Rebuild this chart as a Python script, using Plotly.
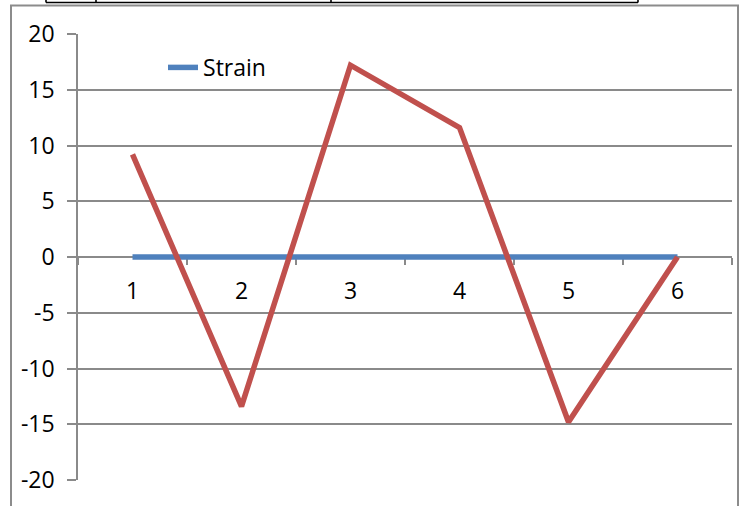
import plotly.graph_objects as go

# Sample index (category axis) and the two measured series
points = [1, 2, 3, 4, 5, 6]
tick_labels = ["1", "2", "3", "4", "5", "6"]
strain = [0, 0, 0, 0, 0, 0]
stress = [9.2, -13.4, 17.2, 11.6, -14.8, 0]
y_ticks = [-20, -15, -10, -5, 0, 5, 10, 15, 20]
y_tick_labels = ["-20", "-15", "-10", "-5", "0", "5", "10", "15", "20"]

W, H = 747, 506
L, R, T, B = 78, 15, 33.5, 26
PW, PH = W - L - R, H - T - B

def px_x(x):
    return (x - L) / PW

def px_y(y):
    return (H - B - y) / PH

GRID = "#8a8a8a"
FONT = "Open Sans"

fig = go.Figure()
fig.add_trace(go.Scatter(
    x=points, y=strain, mode="lines", name="Strain",
    line=dict(color="#4F81BD", width=5.5),
))
fig.add_trace(go.Scatter(
    x=points, y=stress, mode="lines", name="Stress", showlegend=False,
    line=dict(color="#C0504D", width=5.5),
))

shapes = [
    # chart-area frame
    dict(type="rect", xref="paper", yref="paper",
         x0=px_x(11), x1=px_x(738), y0=px_y(530), y1=px_y(5),
         line=dict(color="#8c8c8c", width=2), fillcolor="rgba(0,0,0,0)", layer="below"),
    # table rule above the chart
    dict(type="line", xref="paper", yref="paper",
         x0=px_x(46), x1=px_x(638), y0=px_y(2), y1=px_y(2),
         line=dict(color="black", width=1.6)),
]
for xv in [46, 96, 331, 638]:
    shapes.append(dict(type="line", xref="paper", yref="paper",
                       x0=px_x(xv), x1=px_x(xv), y0=px_y(-5), y1=px_y(2),
                       line=dict(color="black", width=1.6)))

fig.update_layout(
    width=W, height=H,
    margin=dict(l=L, r=R, t=T, b=B, pad=0),
    paper_bgcolor="white", plot_bgcolor="white",
    font=dict(family=FONT, size=23, color="black"),
    shapes=shapes,
    showlegend=True,
    legend=dict(x=0.13, y=0.925, xanchor="left", yanchor="middle",
                bgcolor="rgba(0,0,0,0)", font=dict(family=FONT, size=23)),
    xaxis=dict(
        range=[0.5, 6.5], tickmode="array", tickvals=points, ticktext=tick_labels,
        ticks="", showgrid=False, zeroline=False,
        showline=True, linecolor=GRID, linewidth=1.5,
        anchor="free", position=0.5, layer="below traces",
        ticklabelstandoff=14,
        minor=dict(tickmode="array", tickvals=[0.5, 1.5, 2.5, 3.5, 4.5, 5.5, 6.5],
                   ticks="outside", ticklen=7, tickcolor=GRID, tickwidth=1.5,
                   showgrid=False),
    ),
    yaxis=dict(
        range=[-20, 20], tickmode="array", tickvals=y_ticks, ticktext=y_tick_labels,
        showgrid=True, gridcolor=GRID, gridwidth=1.5, zeroline=False,
        showline=True, linecolor=GRID, linewidth=1.5, layer="below traces",
        ticks="outside", ticklen=9, tickcolor=GRID, tickwidth=1.5,
        ticklabelstandoff=8,
    ),
)

fig.write_html("out.html")
